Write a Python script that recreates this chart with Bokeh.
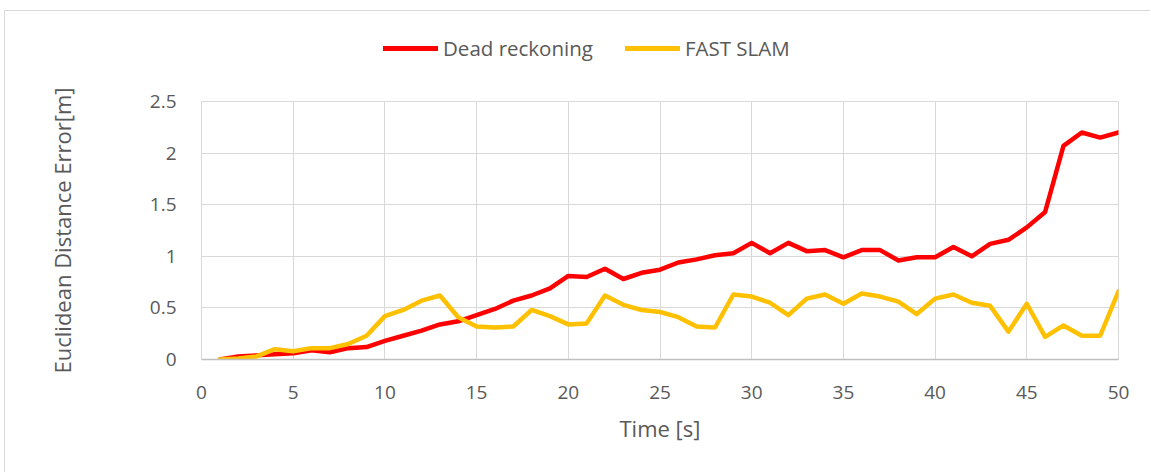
from bokeh.plotting import figure
from bokeh.layouts import column
from bokeh.models import Range1d, Legend, LegendItem, FixedTicker
from bokeh.embed import file_html
from bokeh.resources import INLINE

# ---- data ----
time_s = list(range(1, 51))
dead_reckoning = [0.00, 0.03, 0.04, 0.05, 0.06, 0.09, 0.07, 0.11, 0.12, 0.18,
                  0.23, 0.28, 0.34, 0.37, 0.43, 0.49, 0.57, 0.62, 0.69, 0.81,
                  0.80, 0.88, 0.78, 0.84, 0.87, 0.94, 0.97, 1.01, 1.03, 1.13,
                  1.03, 1.13, 1.05, 1.06, 0.99, 1.06, 1.06, 0.96, 0.99, 0.99,
                  1.09, 1.00, 1.12, 1.16, 1.28, 1.43, 2.07, 2.20, 2.15, 2.20]
fast_slam = [0.00, 0.01, 0.03, 0.10, 0.08, 0.11, 0.11, 0.15, 0.23, 0.42,
             0.48, 0.57, 0.62, 0.41, 0.32, 0.31, 0.32, 0.48, 0.42, 0.34,
             0.35, 0.62, 0.53, 0.48, 0.46, 0.41, 0.32, 0.31, 0.63, 0.61,
             0.55, 0.43, 0.59, 0.63, 0.54, 0.64, 0.61, 0.56, 0.44, 0.59,
             0.63, 0.55, 0.52, 0.27, 0.54, 0.22, 0.33, 0.23, 0.23, 0.66]
x_ticks = [0, 5, 10, 15, 20, 25, 30, 35, 40, 45, 50]
y_ticks = [0, 0.5, 1, 1.5, 2, 2.5]
y_tick_labels = {0: "0", 0.5: "0.5", 1: "1", 1.5: "1.5", 2: "2", 2.5: "2.5"}
series_names = ["Dead reckoning", "FAST SLAM"]
series_colors = ["#FF0000", "#FFC000"]
x_title = "Time [s]"
y_title = "Euclidean Distance Error[m]"

FONT = "Open Sans"
TXT = "#595959"
W = 1150
H_TOP, H_MAIN = 86, 386

# ---- legend strip above the chart ----
top = figure(width=W, height=H_TOP, output_backend="svg", toolbar_location=None,
             x_axis_type=None, y_axis_type=None,
             x_range=Range1d(0, 1), y_range=Range1d(0, 1),
             min_border_left=0, min_border_right=0,
             min_border_top=0, min_border_bottom=0,
             outline_line_color=None, background_fill_color=None,
             border_fill_color=None)
top.grid.visible = False
k1 = top.line(time_s, dead_reckoning, line_color=series_colors[0], line_width=5,
              line_cap="round", visible=False)
k2 = top.line(time_s, fast_slam, line_color=series_colors[1], line_width=5,
              line_cap="round", visible=False)
legend = Legend(items=[LegendItem(label=series_names[0], renderers=[k1]),
                       LegendItem(label=series_names[1], renderers=[k2])],
                orientation="horizontal", location=(182, 24),
                glyph_width=55, glyph_height=20, label_standoff=5, spacing=32,
                padding=0, margin=0, border_line_color=None,
                background_fill_alpha=0, inactive_fill_alpha=0,
                label_text_font=FONT, label_text_font_size="20.5px",
                label_text_color=TXT)
top.add_layout(legend, "center")

# ---- main chart ----
p = figure(width=W, height=H_MAIN, output_backend="svg", toolbar_location=None,
           x_range=Range1d(0, 50), y_range=Range1d(0, 2.5),
           min_border_left=201, min_border_right=32,
           min_border_top=15, min_border_bottom=113,
           background_fill_color="white", border_fill_color=None,
           outline_line_color="#d9d9d9")

p.line(time_s, dead_reckoning, line_color=series_colors[0], line_width=4.5,
       line_join="round", line_cap="round")
p.line(time_s, fast_slam, line_color=series_colors[1], line_width=4.5,
       line_join="round", line_cap="round")

for ax in (p.xaxis[0], p.yaxis[0]):
    ax.major_tick_line_color = None
    ax.minor_tick_line_color = None
    ax.major_label_text_color = TXT
    ax.major_label_text_font = FONT
    ax.major_label_text_font_size = "19px"
    ax.axis_label_text_color = TXT
    ax.axis_label_text_font = FONT
    ax.axis_label_text_font_size = "22px"
    ax.axis_label_text_font_style = "normal"

p.xaxis.ticker = FixedTicker(ticks=x_ticks)
p.yaxis.ticker = FixedTicker(ticks=y_ticks)
p.yaxis.major_label_overrides = y_tick_labels
p.xaxis.axis_line_color = "#bfbfbf"
p.xaxis.axis_line_width = 1.5
p.yaxis.axis_line_color = "#d9d9d9"
p.xaxis.major_label_standoff = 20
p.yaxis.major_label_standoff = 19
p.xaxis.axis_label = x_title
p.xaxis.axis_label_standoff = 11
p.yaxis.axis_label = y_title
p.yaxis.axis_label_standoff = 70

p.grid.grid_line_color = "#d9d9d9"
p.grid.grid_line_width = 1

page = column(top, p, spacing=0,
              styles={"box-shadow": "inset 4px 10px 0 0 white, inset 5px 11px 0 0 #d9d9d9"})

open("out.html", "w").write(file_html(page, INLINE))
